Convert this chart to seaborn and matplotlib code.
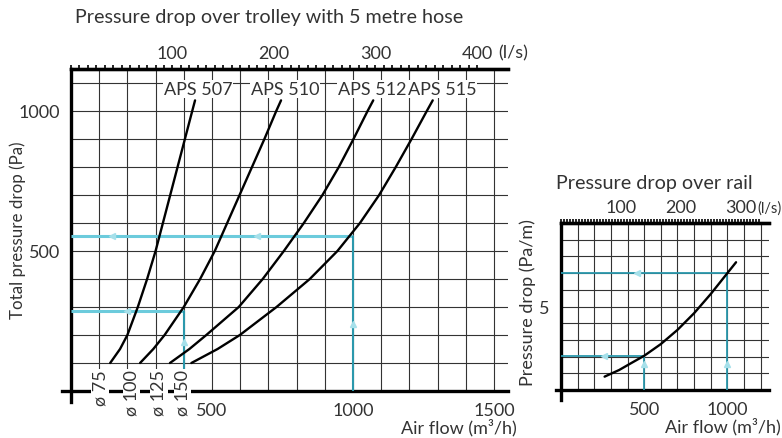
import matplotlib
matplotlib.use("Agg")
import matplotlib.pyplot as plt
from matplotlib.ticker import FixedLocator, MultipleLocator
import seaborn as sns
import pandas as pd
import numpy as np

sns.set_theme(style="white")
plt.rcParams['font.family'] = ['Lato', 'DejaVu Sans']
plt.rcParams['text.color'] = '#333333'
plt.rcParams['xtick.color'] = '#333333'
plt.rcParams['ytick.color'] = '#333333'

# trolley curves (air flow m3/h, pressure Pa)
aps507_flow = [139, 174, 200, 237, 270, 300, 326, 352, 378, 404, 430, 440]
aps507_pa = [100, 150, 200, 300, 400, 500, 600, 700, 800, 900, 1000, 1038]
aps510_flow = [245, 292, 332, 400, 458, 510, 554, 598, 642, 686, 728, 745]
aps510_pa = [100, 150, 200, 300, 400, 500, 600, 700, 800, 900, 1000, 1038]
aps512_flow = [351, 420, 480, 595, 680, 755, 826, 892, 950, 1002, 1052, 1072]
aps512_pa = [100, 150, 200, 300, 400, 500, 600, 700, 800, 900, 1000, 1038]
aps515_flow = [427, 520, 599, 729, 847, 945, 1025, 1093, 1152, 1208, 1262, 1283]
aps515_pa = [100, 150, 200, 300, 400, 500, 600, 700, 800, 900, 1000, 1038]
model_names = ['APS 507', 'APS 510', 'APS 512', 'APS 515']
model_label_flow = [450, 759, 1067, 1316]
hose_labels = ['ø 75', 'ø 100', 'ø 125', 'ø 150']
hose_label_flow = [103, 213, 312, 397]

# rail curve (air flow m3/h, pressure Pa/m)
rail_flow = [262, 350, 420, 500, 600, 700, 800, 900, 1000, 1052]
rail_pam = [0.8, 1.2, 1.6, 2.05, 2.75, 3.6, 4.6, 5.75, 7.0, 7.65]

# reading examples
trolley_guide_flow = [400, 1000]
trolley_guide_pa = [287, 555]
rail_guide_flow = [500, 1000]
rail_guide_pam = [2.05, 7.0]

ls_ticks_trolley = [100, 200, 300, 400]
ls_ticks_rail = [100, 200, 300]

W, H = 782, 439
FS = 13
fig = plt.figure(figsize=(W / 100, H / 100), dpi=100)
ax = fig.add_axes([71 / W, 47 / H, 437 / W, 322 / H])
ax2 = fig.add_axes([561 / W, 48 / H, 208 / W, 167 / H])

GRID = '#333333'
LIGHT = '#6ccbdc'
TEAL = '#2b98ac'
ARROW = '#a6e0ea'


def frame(a, xmax, ymax, ybottom_ext, xleft_ext):
    a.set_xlim(0, xmax)
    a.set_ylim(0, ymax)
    a.spines['right'].set_visible(False)
    for s in ['left', 'bottom', 'top']:
        a.spines[s].set_linewidth(2.4)
        a.spines[s].set_color('black')
    a.spines['left'].set_bounds(ybottom_ext, ymax)
    a.spines['bottom'].set_bounds(xleft_ext, xmax)
    a.grid(which='minor', color=GRID, linewidth=0.8)
    a.grid(which='major', color=GRID, linewidth=0.8)
    a.tick_params(which='major', direction='out', length=7, width=2,
                  labelsize=FS, color='black', pad=1)
    a.tick_params(which='minor', length=0)
    a.set_axisbelow(True)


def top_axis(a, ticks, minor_step, minor_max, last, offset, lab_fs):
    sec = a.secondary_xaxis('top', functions=(lambda x: x / 3.6, lambda x: x * 3.6))
    sec.set_xticks(ticks)
    sec.set_xticklabels([str(t) for t in ticks])
    sec.xaxis.set_minor_locator(FixedLocator(np.arange(0, minor_max + 0.01, minor_step)))
    sec.tick_params(which='both', direction='out', length=3, width=1.2,
                    labelsize=FS, pad=3, color='black')
    sec.spines['top'].set_linewidth(2.4)
    a.annotate('(l/s)', xy=(last * 3.6, 1), xycoords=('data', 'axes fraction'),
               xytext=(offset, 6), textcoords='offset points', ha='left', va='bottom',
               fontsize=lab_fs)
    return sec


# ---- trolley chart ----
frame(ax, 1550, 1150, -40, -32)
ax.set_xticks([500, 1000, 1500])
ax.xaxis.set_minor_locator(MultipleLocator(100))
ax.set_yticks([500, 1000])
ax.yaxis.set_minor_locator(MultipleLocator(100))
top_axis(ax, ls_ticks_trolley, 25 / 3, 400, 400, 15, FS)

# reading example lines
ax.hlines(trolley_guide_pa, 0, trolley_guide_flow, color=LIGHT, linewidth=2.2, zorder=3)
ax.vlines(trolley_guide_flow, 0, trolley_guide_pa, color=TEAL, linewidth=1.5, zorder=3)
ax.plot([145, 660], [trolley_guide_pa[1]] * 2, ls='none', marker='<', ms=4, color=ARROW, zorder=4)
ax.plot([200], [trolley_guide_pa[0]], ls='none', marker='<', ms=4, color=ARROW, zorder=4)
ax.plot(trolley_guide_flow, [175, 238], ls='none', marker='^', ms=4, color=ARROW, zorder=4)

curves = [(aps507_flow, aps507_pa), (aps510_flow, aps510_pa),
          (aps512_flow, aps512_pa), (aps515_flow, aps515_pa)]
for (fl, pa), name, lx in zip(curves, model_names, model_label_flow):
    df = pd.DataFrame({'flow': fl, 'pa': pa})
    sns.lineplot(data=df, x='flow', y='pa', sort=False, estimator=None,
                 color='black', linewidth=1.7, ax=ax, zorder=5)
    ax.text(lx, 1080, name, ha='center', va='center', fontsize=FS, zorder=6,
            bbox=dict(facecolor='white', edgecolor='none', pad=0.6))

for lab, lx in zip(hose_labels, hose_label_flow):
    ax.text(lx, 78, lab, rotation=90, ha='center', va='top', fontsize=FS,
            zorder=6, clip_on=False,
            bbox=dict(facecolor='white', edgecolor='none', pad=0.4))

ax.set_xlabel('')
ax.set_ylabel('')

# ---- rail chart ----
frame(ax2, 1250, 10, -0.6, -30)
ax2.set_xticks([500, 1000])
ax2.xaxis.set_minor_locator(MultipleLocator(100))
ax2.set_yticks([5])
ax2.yaxis.set_minor_locator(MultipleLocator(1))
top_axis(ax2, ls_ticks_rail, 5, 330, 300, 12, 10.5)

ax2.hlines(rail_guide_pam, 0, rail_guide_flow, color=TEAL, linewidth=1.3, zorder=3)
ax2.vlines(rail_guide_flow, 0, rail_guide_pam, color=TEAL, linewidth=1.3, zorder=3)
ax2.plot([256, 456], rail_guide_pam, ls='none', marker='<', ms=4, color=ARROW, zorder=4)
ax2.plot(rail_guide_flow, [1.56, 1.56], ls='none', marker='^', ms=4, color=ARROW, zorder=4)

rail_df = pd.DataFrame({'flow': rail_flow, 'pam': rail_pam})
sns.lineplot(data=rail_df, x='flow', y='pam', sort=False, estimator=None,
             color='black', linewidth=1.7, ax=ax2, zorder=5)
ax2.set_xlabel('')
ax2.set_ylabel('')

# ---- texts ----
fig.text(75 / W, 1 - 18 / H, 'Pressure drop over trolley with 5 metre hose',
         ha='left', va='center', fontsize=14.2)
fig.text(556 / W, 1 - 183 / H, 'Pressure drop over rail',
         ha='left', va='center', fontsize=14.2)
fig.text(18 / W, 1 - 230 / H, 'Total pressure drop (Pa)', rotation=90,
         ha='center', va='center', fontsize=12.2)
fig.text(528 / W, 1 - 303 / H, 'Pressure drop (Pa/m)', rotation=90,
         ha='center', va='center', fontsize=FS)
fig.text(517 / W, 1 - 428 / H, 'Air flow (m³/h)', ha='right', va='center', fontsize=FS)
fig.text(781 / W, 1 - 427 / H, 'Air flow (m³/h)', ha='right', va='center', fontsize=FS)

fig.savefig('out.png', dpi=100)
